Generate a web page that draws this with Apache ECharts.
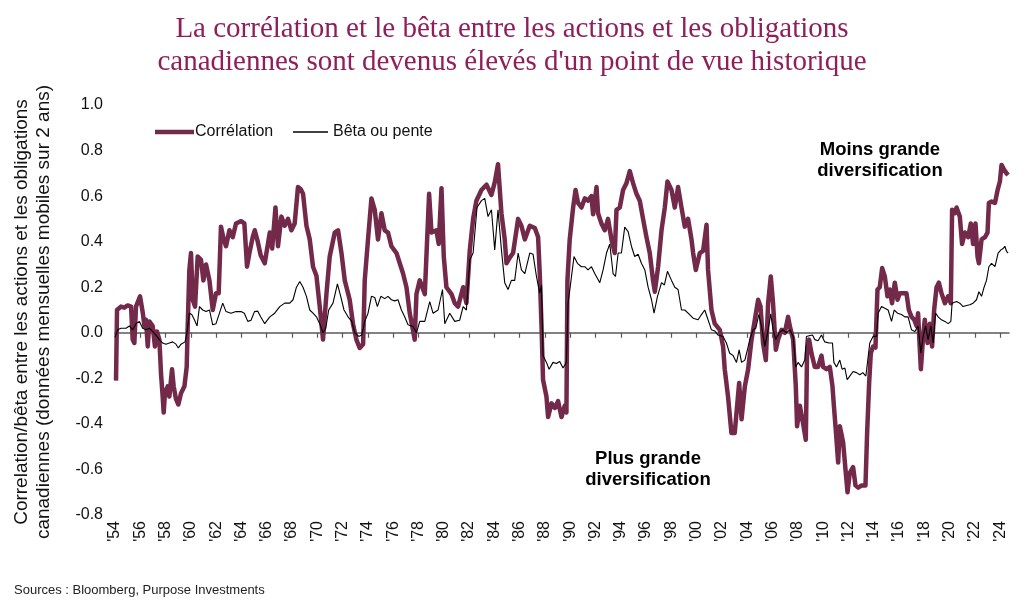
<!DOCTYPE html>
<html>
<head>
<meta charset="utf-8">
<script src="https://cdn.jsdelivr.net/npm/echarts@6/dist/echarts.min.js"></script>
<style>
html,body{margin:0;padding:0;background:#fff;}
#chart{width:1024px;height:614px;}
</style>
</head>
<body>
<div id="chart"></div>
<script>
var titleLines = ["La corrélation et le bêta entre les actions et les obligations", "canadiennes sont devenus élevés d'un point de vue historique"];
var yTitleLines = ["Correlation/bêta entre les actions et les obligations", "canadiennes (données mensuelles mobiles sur 2 ans)"];
var seriesNames = ["Corrélation", "Bêta ou pente"];
var tickYears = [1954,1956,1958,1960,1962,1964,1966,1968,1970,1972,1974,1976,1978,1980,1982,1984,1986,1988,1990,1992,1994,1996,1998,2000,2002,2004,2006,2008,2010,2012,2014,2016,2018,2020,2022,2024];
var sourceText = "Sources : Bloomberg, Purpose Investments";
var noteHigh = ["Moins grande", "diversification"];
var noteLow = ["Plus grande", "diversification"];

var corrData = [[1954.08,-0.21],[1954.16,0.10],[1954.47,0.115],[1954.74,0.11],[1955.00,0.12],[1955.27,0.115],[1955.40,-0.03],[1955.53,-0.045],[1955.66,0.115],[1955.98,0.16],[1956.19,0.09],[1956.33,0.03],[1956.45,0.057],[1956.59,-0.06],[1956.72,0.05],[1956.98,0.03],[1957.16,-0.06],[1957.32,0.006],[1957.51,-0.03],[1957.64,-0.18],[1957.77,-0.28],[1957.85,-0.35],[1957.95,-0.265],[1958.17,-0.235],[1958.30,-0.28],[1958.51,-0.16],[1958.64,-0.235],[1958.82,-0.29],[1959.01,-0.315],[1959.22,-0.265],[1959.49,-0.235],[1959.67,-0.15],[1959.75,0.03],[1959.88,0.276],[1960.01,0.35],[1960.15,0.145],[1960.33,0.115],[1960.54,0.335],[1960.80,0.32],[1960.99,0.23],[1961.20,0.30],[1961.47,0.23],[1961.73,0.10],[1961.99,0.174],[1962.20,0.174],[1962.38,0.466],[1962.60,0.41],[1962.78,0.38],[1963.05,0.45],[1963.31,0.42],[1963.57,0.48],[1963.97,0.49],[1964.23,0.48],[1964.44,0.29],[1964.63,0.35],[1964.89,0.42],[1965.05,0.45],[1965.29,0.40],[1965.52,0.34],[1965.84,0.305],[1966.24,0.44],[1966.43,0.37],[1966.69,0.55],[1966.89,0.38],[1967.16,0.51],[1967.42,0.47],[1967.68,0.50],[1967.95,0.45],[1968.21,0.48],[1968.47,0.64],[1968.69,0.63],[1968.87,0.61],[1969.14,0.47],[1969.40,0.41],[1969.66,0.29],[1969.93,0.25],[1970.19,0.115],[1970.45,-0.03],[1970.72,0.17],[1970.98,0.335],[1971.38,0.44],[1971.64,0.45],[1971.91,0.35],[1972.17,0.23],[1972.56,0.145],[1972.82,0.04],[1973.09,-0.03],[1973.35,-0.067],[1973.62,-0.05],[1973.75,0.23],[1974.01,0.41],[1974.28,0.59],[1974.54,0.54],[1974.80,0.41],[1975.07,0.525],[1975.33,0.45],[1975.59,0.44],[1975.86,0.38],[1976.26,0.35],[1976.52,0.305],[1976.78,0.26],[1977.05,0.20],[1977.31,0.086],[1977.70,-0.03],[1977.84,0.17],[1978.10,0.23],[1978.50,0.17],[1978.84,0.61],[1979.03,0.44],[1979.42,0.45],[1979.60,0.39],[1979.82,0.635],[1980.00,0.335],[1980.21,0.20],[1980.61,0.17],[1980.87,0.13],[1981.13,0.115],[1981.53,0.20],[1981.79,0.13],[1982.06,0.364],[1982.32,0.50],[1982.58,0.58],[1982.98,0.627],[1983.38,0.65],[1983.77,0.605],[1984.03,0.66],[1984.29,0.74],[1984.56,0.525],[1984.82,0.41],[1984.96,0.305],[1985.22,0.33],[1985.48,0.35],[1985.88,0.50],[1986.14,0.47],[1986.41,0.41],[1986.80,0.47],[1987.20,0.46],[1987.46,0.42],[1987.59,0.26],[1987.73,0.03],[1987.85,-0.206],[1988.12,-0.28],[1988.25,-0.37],[1988.52,-0.31],[1988.78,-0.33],[1989.04,-0.30],[1989.31,-0.37],[1989.57,-0.32],[1989.70,-0.35],[1989.78,0.23],[1989.96,0.41],[1990.23,0.55],[1990.42,0.627],[1990.62,0.57],[1990.89,0.55],[1991.15,0.59],[1991.41,0.58],[1991.68,0.60],[1991.81,0.52],[1992.08,0.64],[1992.20,0.525],[1992.47,0.48],[1992.73,0.45],[1992.99,0.50],[1993.26,0.41],[1993.52,0.35],[1993.66,0.54],[1993.92,0.55],[1994.18,0.627],[1994.45,0.657],[1994.71,0.71],[1994.97,0.657],[1995.24,0.61],[1995.50,0.58],[1995.76,0.50],[1996.03,0.42],[1996.29,0.35],[1996.55,0.23],[1996.69,0.18],[1996.95,0.29],[1997.22,0.45],[1997.48,0.55],[1997.69,0.664],[1998.01,0.627],[1998.27,0.55],[1998.53,0.64],[1998.80,0.55],[1999.06,0.466],[1999.32,0.50],[1999.59,0.41],[1999.72,0.35],[1999.93,0.276],[2000.25,0.35],[2000.51,0.36],[2000.78,0.474],[2000.90,0.276],[2001.17,0.10],[2001.43,0.04],[2001.83,0.013],[2002.09,-0.06],[2002.22,-0.16],[2002.48,-0.28],[2002.75,-0.44],[2003.01,-0.44],[2003.20,-0.32],[2003.36,-0.22],[2003.55,-0.38],[2003.81,-0.235],[2004.07,-0.16],[2004.34,-0.03],[2004.60,0.057],[2004.86,0.145],[2005.05,0.115],[2005.25,-0.045],[2005.47,-0.12],[2005.65,0.13],[2005.86,0.247],[2006.04,0.13],[2006.26,-0.075],[2006.44,-0.03],[2006.71,0.013],[2006.97,0.0],[2007.23,0.07],[2007.37,0.028],[2007.63,-0.03],[2007.84,-0.235],[2007.94,-0.41],[2008.16,-0.32],[2008.42,-0.40],[2008.63,-0.47],[2008.73,-0.09],[2008.89,-0.03],[2009.08,-0.09],[2009.34,-0.15],[2009.60,-0.15],[2009.87,-0.10],[2010.00,-0.15],[2010.27,-0.16],[2010.53,-0.15],[2010.74,-0.235],[2010.85,-0.32],[2011.00,-0.425],[2011.19,-0.57],[2011.32,-0.41],[2011.58,-0.48],[2011.77,-0.60],[2011.93,-0.70],[2012.11,-0.615],[2012.37,-0.59],[2012.56,-0.67],[2012.77,-0.68],[2013.06,-0.67],[2013.35,-0.67],[2013.48,-0.44],[2013.64,-0.22],[2013.77,-0.09],[2013.95,-0.06],[2014.14,-0.065],[2014.30,0.19],[2014.48,0.20],[2014.67,0.284],[2014.88,0.247],[2015.09,0.16],[2015.27,0.19],[2015.45,0.13],[2015.67,0.22],[2015.88,0.145],[2016.06,0.174],[2016.59,0.174],[2016.78,0.10],[2016.99,0.07],[2017.20,0.057],[2017.39,0.03],[2017.51,0.086],[2017.65,-0.075],[2017.73,-0.16],[2017.91,-0.016],[2018.04,0.057],[2018.26,-0.045],[2018.44,0.04],[2018.62,-0.06],[2018.78,0.10],[2018.97,0.20],[2019.15,0.22],[2019.36,0.174],[2019.63,0.13],[2019.89,0.16],[2020.10,0.13],[2020.20,0.54],[2020.42,0.525],[2020.55,0.55],[2020.81,0.51],[2020.99,0.39],[2021.21,0.44],[2021.47,0.42],[2021.68,0.48],[2021.86,0.39],[2022.05,0.48],[2022.21,0.335],[2022.32,0.305],[2022.53,0.41],[2022.80,0.42],[2023.00,0.44],[2023.11,0.57],[2023.32,0.576],[2023.59,0.57],[2023.80,0.627],[2023.98,0.664],[2024.11,0.737],[2024.32,0.715],[2024.51,0.70],[2024.63,0.693]];

var betaData = [[1954.00,-0.02],[1954.21,0.013],[1954.47,0.02],[1954.87,0.02],[1955.14,0.03],[1955.40,0.013],[1955.66,0.04],[1955.93,0.05],[1956.19,0.02],[1956.45,0.013],[1956.72,0.02],[1956.98,0.005],[1957.24,-0.01],[1957.51,-0.03],[1957.77,-0.045],[1958.03,-0.05],[1958.30,-0.045],[1958.56,-0.04],[1958.82,-0.05],[1959.01,-0.067],[1959.22,-0.05],[1959.54,-0.04],[1959.69,0.0],[1959.88,0.086],[1960.07,0.08],[1960.28,0.057],[1960.49,0.03],[1960.68,0.115],[1960.94,0.10],[1961.20,0.093],[1961.47,0.10],[1961.73,0.035],[1961.99,0.04],[1962.26,0.086],[1962.52,0.13],[1962.78,0.093],[1963.17,0.086],[1963.57,0.093],[1963.97,0.093],[1964.23,0.086],[1964.50,0.05],[1964.76,0.055],[1965.03,0.093],[1965.29,0.095],[1965.52,0.07],[1965.84,0.04],[1966.24,0.07],[1966.63,0.086],[1967.03,0.115],[1967.42,0.13],[1967.82,0.13],[1968.08,0.145],[1968.35,0.20],[1968.61,0.225],[1968.87,0.20],[1969.14,0.16],[1969.40,0.10],[1969.66,0.086],[1969.93,0.07],[1970.19,0.04],[1970.45,0.0],[1970.67,0.02],[1970.90,0.10],[1971.24,0.13],[1971.59,0.215],[1971.85,0.16],[1972.11,0.10],[1972.43,0.07],[1972.72,0.05],[1972.96,0.0],[1973.28,-0.016],[1973.51,-0.01],[1973.75,0.05],[1974.01,0.086],[1974.28,0.16],[1974.54,0.155],[1974.75,0.115],[1975.02,0.16],[1975.33,0.15],[1975.59,0.16],[1975.86,0.145],[1976.12,0.14],[1976.38,0.145],[1976.65,0.10],[1976.91,0.07],[1977.17,0.035],[1977.57,0.028],[1977.84,0.0],[1978.10,0.05],[1978.50,0.05],[1978.89,0.137],[1979.15,0.086],[1979.55,0.10],[1979.90,0.19],[1980.08,0.04],[1980.47,0.086],[1980.87,0.05],[1981.26,0.055],[1981.53,0.115],[1981.79,0.10],[1982.06,0.32],[1982.32,0.35],[1982.63,0.55],[1982.98,0.58],[1983.24,0.59],[1983.50,0.51],[1983.77,0.54],[1984.03,0.364],[1984.29,0.54],[1984.56,0.364],[1984.82,0.22],[1985.08,0.19],[1985.35,0.23],[1985.61,0.23],[1985.88,0.35],[1986.14,0.276],[1986.41,0.26],[1986.80,0.35],[1987.06,0.345],[1987.33,0.247],[1987.59,0.174],[1987.73,0.21],[1987.85,-0.10],[1988.12,-0.13],[1988.33,-0.16],[1988.64,-0.13],[1988.91,-0.135],[1989.17,-0.126],[1989.43,-0.155],[1989.70,-0.13],[1989.83,0.13],[1990.04,0.22],[1990.30,0.335],[1990.57,0.305],[1990.89,0.29],[1991.15,0.29],[1991.41,0.276],[1991.68,0.29],[1991.94,0.26],[1992.34,0.22],[1992.60,0.276],[1992.87,0.35],[1993.13,0.39],[1993.39,0.26],[1993.58,0.247],[1993.79,0.35],[1994.05,0.35],[1994.31,0.464],[1994.58,0.444],[1994.84,0.38],[1995.10,0.335],[1995.37,0.345],[1995.63,0.305],[1995.90,0.276],[1996.16,0.20],[1996.43,0.145],[1996.63,0.086],[1996.90,0.16],[1997.22,0.22],[1997.45,0.21],[1997.69,0.27],[1998.01,0.23],[1998.27,0.20],[1998.53,0.19],[1998.80,0.10],[1999.06,0.10],[1999.32,0.086],[1999.72,0.064],[2000.11,0.057],[2000.38,0.08],[2000.64,0.10],[2000.90,0.057],[2001.17,0.013],[2001.43,0.008],[2001.69,-0.01],[2002.09,-0.016],[2002.35,-0.045],[2002.61,-0.09],[2002.88,-0.10],[2003.15,-0.13],[2003.36,-0.075],[2003.55,-0.13],[2003.81,-0.12],[2003.99,-0.08],[2004.20,-0.03],[2004.46,0.013],[2004.68,0.02],[2004.91,0.08],[2005.13,0.028],[2005.39,-0.06],[2005.65,0.013],[2005.86,0.083],[2006.04,0.013],[2006.26,-0.03],[2006.52,0.0],[2006.84,0.013],[2007.10,0.0],[2007.37,0.013],[2007.63,-0.016],[2007.84,-0.15],[2008.02,-0.13],[2008.29,-0.15],[2008.55,-0.12],[2008.68,-0.016],[2008.89,-0.013],[2009.16,-0.01],[2009.34,-0.03],[2009.60,-0.035],[2009.87,-0.01],[2010.13,-0.04],[2010.47,-0.045],[2010.74,-0.045],[2010.85,-0.13],[2011.06,-0.15],[2011.19,-0.15],[2011.32,-0.12],[2011.50,-0.16],[2011.72,-0.155],[2011.90,-0.206],[2012.11,-0.19],[2012.37,-0.17],[2012.64,-0.175],[2012.90,-0.184],[2013.14,-0.175],[2013.38,-0.19],[2013.51,-0.13],[2013.69,-0.045],[2013.95,-0.016],[2014.22,-0.016],[2014.35,0.086],[2014.62,0.115],[2014.88,0.108],[2015.14,0.10],[2015.41,0.05],[2015.62,0.10],[2015.88,0.086],[2016.20,0.08],[2016.46,0.07],[2016.72,0.07],[2016.99,0.013],[2017.25,0.005],[2017.51,0.03],[2017.73,-0.09],[2017.91,-0.016],[2018.10,0.03],[2018.30,-0.03],[2018.52,0.03],[2018.70,-0.045],[2018.89,0.086],[2019.10,0.07],[2019.36,0.057],[2019.63,0.05],[2019.89,0.04],[2020.10,0.05],[2020.20,0.13],[2020.55,0.137],[2020.81,0.13],[2021.07,0.115],[2021.34,0.12],[2021.60,0.123],[2021.86,0.13],[2022.13,0.145],[2022.32,0.18],[2022.53,0.16],[2022.73,0.20],[2022.92,0.23],[2023.11,0.29],[2023.32,0.305],[2023.59,0.29],[2023.84,0.35],[2024.06,0.364],[2024.24,0.37],[2024.37,0.38],[2024.51,0.357],[2024.63,0.35]];

var SANS = "'Liberation Sans', Arial, sans-serif";
var CORR_COLOR = '#73294a';
var chart = echarts.init(document.getElementById('chart'), null, {renderer: 'canvas'});
var xMin = 1954, xMax = 2024.7;

chart.setOption({
  animation: false,
  backgroundColor: '#ffffff',
  title: {
    text: titleLines.join('\n'),
    left: 'center',
    top: 8,
    textStyle: {fontFamily: "'Liberation Serif', 'Times New Roman', serif", fontSize: 29, lineHeight: 33, fontWeight: 'normal', color: '#8e1f5b'}
  },
  legend: [
    {
      data: [{name: seriesNames[0], icon: 'rect'}],
      left: 150, top: 119,
      itemWidth: 39, itemHeight: 4.5, itemGap: 12,
      itemStyle: {color: CORR_COLOR},
      textStyle: {fontFamily: SANS, fontSize: 16, color: '#111', padding: [0, 0, 0, -4]}
    },
    {
      data: [{name: seriesNames[1], icon: 'rect'}],
      left: 288, top: 119,
      itemWidth: 35, itemHeight: 1.4, itemGap: 12,
      itemStyle: {color: '#000'},
      textStyle: {fontFamily: SANS, fontSize: 16, color: '#111', padding: [0, 0, 0, 0]}
    }
  ],
  grid: {left: 115, right: 15, top: 105, bottom: 99, containLabel: false},
  xAxis: [
    {
      type: 'value', min: xMin, max: xMax, interval: 2,
      axisLine: {show: true, onZero: true, lineStyle: {color: '#5a5a5a', width: 1.5}},
      axisTick: {show: true, length: 5, customValues: tickYears, lineStyle: {color: '#5a5a5a', width: 1.2}},
      axisLabel: {show: false},
      splitLine: {show: false}
    },
    {
      type: 'value', min: xMin, max: xMax, interval: 2, position: 'bottom',
      axisLine: {show: false, onZero: false},
      axisTick: {show: false},
      splitLine: {show: false},
      axisLabel: {
        show: true, rotate: 90, margin: 6, customValues: tickYears,
        fontFamily: SANS, fontSize: 16, color: '#111',
        formatter: function (v) { return "'" + String(Math.round(v)).slice(2); }
      }
    }
  ],
  yAxis: {
    type: 'value', min: -0.8, max: 1.0, interval: 0.2,
    axisLine: {show: false},
    axisTick: {show: false},
    splitLine: {show: false},
    axisLabel: {
      margin: 12, fontFamily: SANS, fontSize: 16, color: '#111',
      formatter: function (v) { return (Math.round(v * 10) / 10).toFixed(1); }
    }
  },
  series: [
    {
      name: seriesNames[0], type: 'line', xAxisIndex: 0, data: corrData,
      symbol: 'none', showSymbol: false,
      lineStyle: {color: CORR_COLOR, width: 4.5, join: 'round'},
      itemStyle: {color: CORR_COLOR}, z: 2
    },
    {
      name: seriesNames[1], type: 'line', xAxisIndex: 0, data: betaData,
      symbol: 'none', showSymbol: false,
      lineStyle: {color: '#000000', width: 1.1},
      itemStyle: {color: '#000000'}, z: 3
    }
  ],
  graphic: [
    {
      type: 'text', x: 33, y: 312, rotation: Math.PI / 2,
      style: {text: yTitleLines.join('\n'), fontFamily: SANS, fontSize: 19, lineHeight: 22, fill: '#111', align: 'center', verticalAlign: 'middle'}
    },
    {
      type: 'text', x: 880, y: 160,
      style: {text: noteHigh.join('\n'), fontFamily: SANS, fontSize: 18.5, fontWeight: 'bold', lineHeight: 21, fill: '#000', align: 'center', verticalAlign: 'middle'}
    },
    {
      type: 'text', x: 648, y: 469,
      style: {text: noteLow.join('\n'), fontFamily: SANS, fontSize: 18.5, fontWeight: 'bold', lineHeight: 21, fill: '#000', align: 'center', verticalAlign: 'middle'}
    },
    {
      type: 'text', x: 14, y: 590,
      style: {text: sourceText, fontFamily: SANS, fontSize: 13, fill: '#222', align: 'left', verticalAlign: 'middle'}
    }
  ]
});
</script>
</body>
</html>
